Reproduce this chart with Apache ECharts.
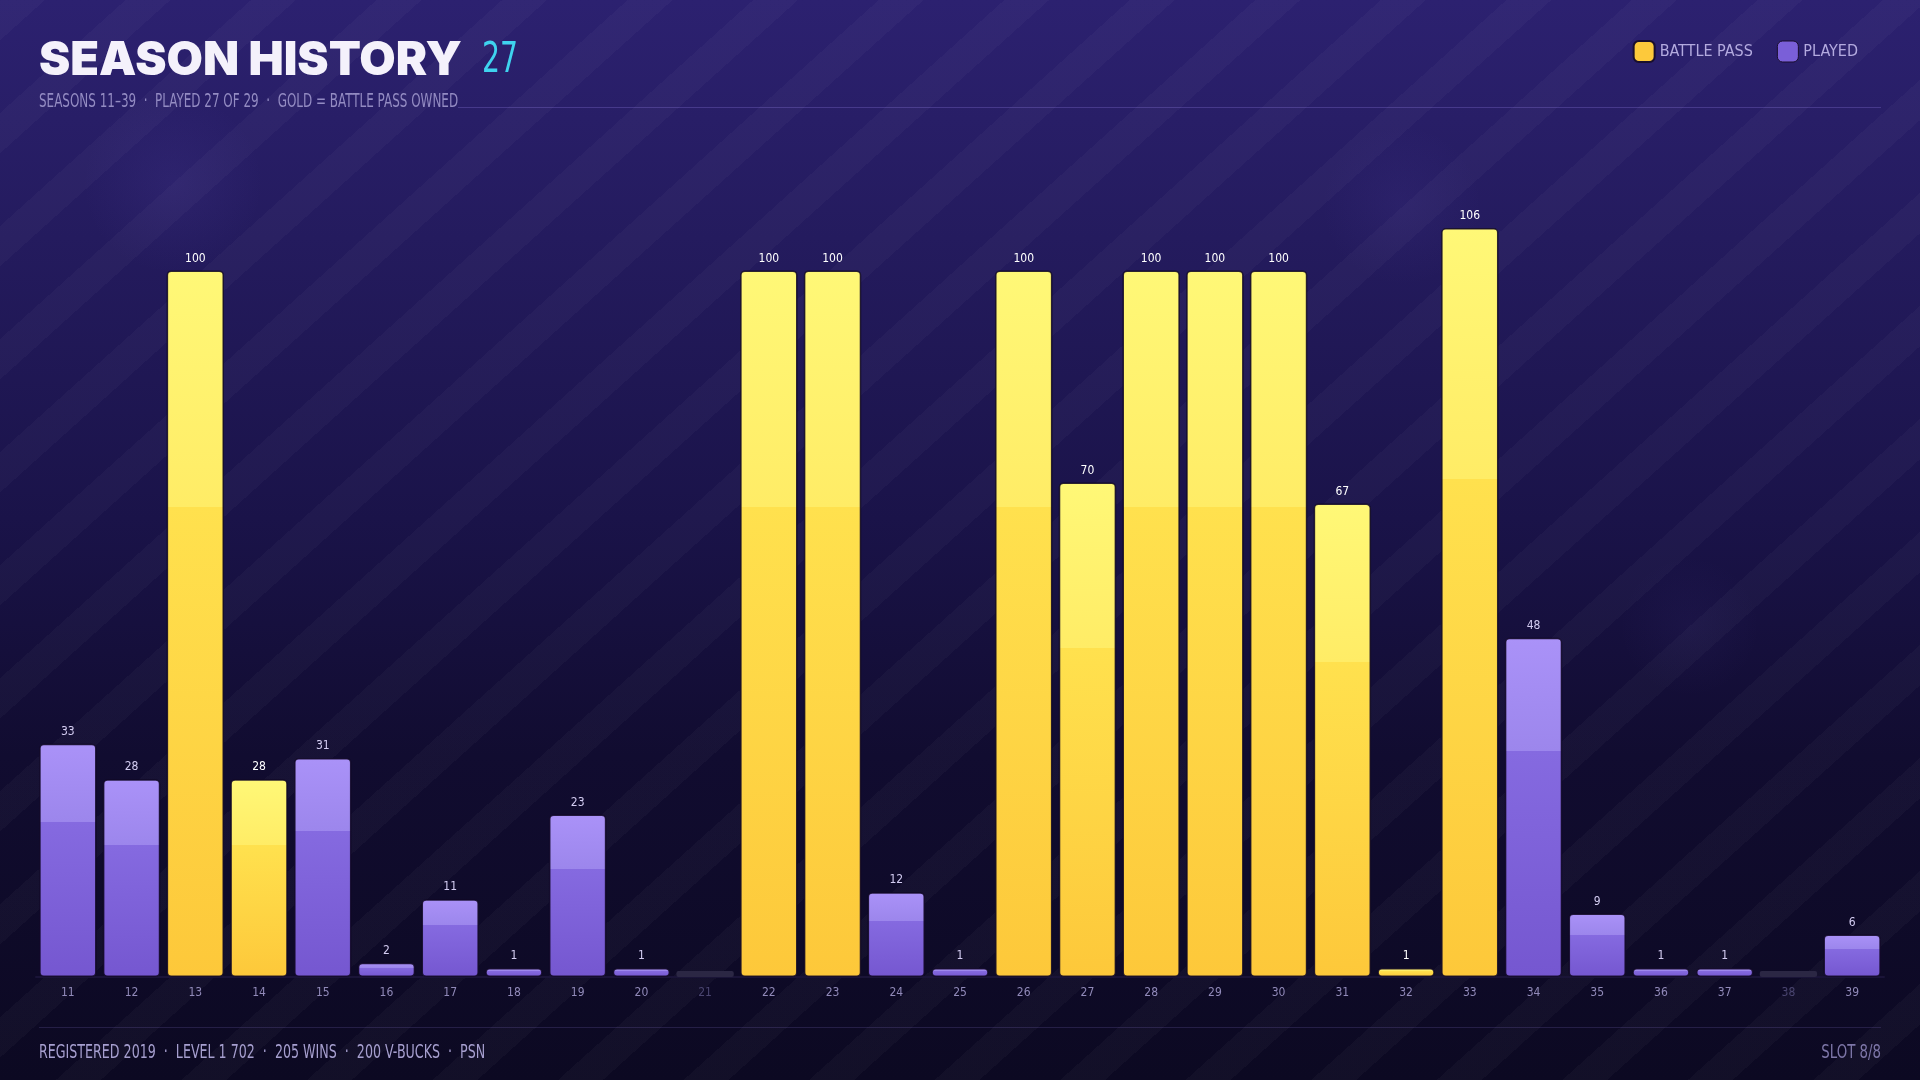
<!DOCTYPE html>
<html>
<head>
<meta charset="utf-8">
<script src="https://cdn.jsdelivr.net/npm/echarts@6/dist/echarts.min.js"></script>
<style>
  html, body { margin:0; padding:0; width:1920px; height:1080px; overflow:hidden; }
  body {
    background:
      radial-gradient(circle at 9% 17%, rgba(120,100,220,0.09) 0, rgba(120,100,220,0) 90px),
      radial-gradient(circle at 73% 19%, rgba(120,100,220,0.07) 0, rgba(120,100,220,0) 80px),
      radial-gradient(circle at 88% 58%, rgba(120,100,220,0.05) 0, rgba(120,100,220,0) 70px),
      repeating-linear-gradient(138deg, rgba(255,255,255,0.028) 0px, rgba(255,255,255,0.028) 30px, rgba(255,255,255,0) 30px, rgba(255,255,255,0) 84px),
      linear-gradient(180deg, #2c2170 0%, #241b5e 22%, #1a1349 48%, #110c30 70%, #0c0922 100%);
  }
  #chart { width:1920px; height:1080px; }
</style>
</head>
<body>
<div id="chart"></div>
<script>
// ---- data ----
const seasons = ['11','12','13','14','15','16','17','18','19','20','21','22','23','24','25','26','27','28','29','30','31','32','33','34','35','36','37','38','39'];
const levels  = [33, 28, 100, 28, 31, 2, 11, 1, 23, 1, 0, 100, 100, 12, 1, 100, 70, 100, 100, 100, 67, 1, 106, 48, 9, 1, 1, 0, 6];
const battlePass = [0,0,1,1,0,0,0,0,0,0,0,1,1,0,0,1,1,1,1,1,1,1,1,0,0,0,0,0,0];
const playedFlag = [1,1,1,1,1,1,1,1,1,1,0,1,1,1,1,1,1,1,1,1,1,1,1,1,1,1,1,0,1];
const titleText = 'SEASON HISTORY';
const titleCount = '27';
const subtitleText = 'SEASONS 11–39  ·  PLAYED 27 OF 29  ·  GOLD = BATTLE PASS OWNED';
const footerText = 'REGISTERED 2019  ·  LEVEL 1 702  ·  205 WINS  ·  200 V-BUCKS  ·  PSN';
const footerRight = 'SLOT 8/8';

const narrow = "'Liberation Sans Narrow', 'DejaVu Sans Condensed', 'Roboto', sans-serif";

const goldGrad = new echarts.graphic.LinearGradient(0,0,0,1,[
  {offset:0, color:'#fff877'},
  {offset:0.335, color:'#ffec66'},
  {offset:0.335, color:'#ffe14e'},
  {offset:1, color:'#fdc83a'}
]);
const purpleGrad = new echarts.graphic.LinearGradient(0,0,0,1,[
  {offset:0, color:'#aa92f8'},
  {offset:0.335, color:'#9c86ec'},
  {offset:0.335, color:'#856ae0'},
  {offset:1, color:'#7557d0'}
]);

const bpData = levels.map((v,i) => (battlePass[i] && playedFlag[i]) ? v : null);
const plData = levels.map((v,i) => (!battlePass[i] && playedFlag[i]) ? v : null);
const noData = levels.map((v,i) => playedFlag[i] ? null : v);

const labelCfg = (color) => ({
  show:true, position:'top', distance:6,
  color: color, fontSize:12, fontFamily: narrow,
  formatter: p => (p.value === null || p.value === undefined) ? '' : String(p.value)
});

const chart = echarts.init(document.getElementById('chart'), null, {renderer:'canvas'});
chart.setOption({
  backgroundColor:'transparent',
  animation:false,
  grid:{ left:36, right:36, top:228, bottom:103 },
  legend:{
    right:57, top:35, itemWidth:21, itemHeight:21, itemGap:24, icon:'roundRect',
    textStyle:{ color:'#b3aadf', fontSize:16, fontFamily: narrow },
    data:[
      {name:'BATTLE PASS', itemStyle:{color:'#fdc93b', borderColor:'#1a0f2e', borderWidth:2}},
      {name:'PLAYED', itemStyle:{color:'#7a5fd8', borderColor:'#1a0f2e', borderWidth:1}}
    ]
  },
  xAxis:{
    type:'category', data:seasons,
    axisLine:{ show:true, lineStyle:{ color:'#1a1438', width:2 } },
    axisTick:{ show:false },
    axisLabel:{
      margin:10, fontSize:12, fontFamily: narrow,
      color: (val) => playedFlag[seasons.indexOf(val)] ? '#918ab9' : '#4a4570'
    }
  },
  yAxis:{ type:'value', min:0, max:106, show:false, splitLine:{show:false} },
  series:[
    {
      name:'BATTLE PASS', type:'bar', data:bpData, barCategoryGap:'10%', barGap:'-100%',
      barMinHeight:9,
      itemStyle:{ color:goldGrad, borderRadius:4, borderColor:'rgba(16,8,36,0.85)', borderWidth:1.5 },
      label: labelCfg('#ffffff')
    },
    {
      name:'PLAYED', type:'bar', data:plData, barCategoryGap:'10%', barGap:'-100%',
      barMinHeight:9,
      itemStyle:{ color:purpleGrad, borderRadius:4, borderColor:'rgba(16,8,36,0.85)', borderWidth:1.5 },
      label: labelCfg('#d4cdf2')
    },
    {
      name:'NOT PLAYED', type:'bar', data:noData, barCategoryGap:'10%', barGap:'-100%',
      barMinHeight:6,
      itemStyle:{ color:'#2b2744', borderRadius:2 },
      label:{ show:false }
    }
  ],
  graphic:[
    { type:'text', x:39, y:37, style:{ text:titleText, fill:'#f4f1fb', font:"900 47px Inter, 'Noto Sans', sans-serif", align:'left', verticalAlign:'top' } },
    { type:'text', x:482, y:40, scaleX:0.75, style:{ text:titleCount, fill:'#3fd3ef', font:"400 42px " + narrow, align:'left', verticalAlign:'top' } },
    { type:'text', x:39, y:93, scaleX:0.70, style:{ text:subtitleText, fill:'#938bc2', font:"400 19px " + narrow, align:'left', verticalAlign:'top' } },
    { type:'rect', shape:{ x:458, y:107, width:1423, height:1 }, style:{ fill:'rgba(150,130,230,0.28)' } },
    { type:'rect', shape:{ x:39, y:1027, width:1842, height:1 }, style:{ fill:'rgba(150,130,230,0.18)' } },
    { type:'text', x:39, y:1044, scaleX:0.74, style:{ text:footerText, fill:'#a69fcf', font:"400 19px " + narrow, align:'left', verticalAlign:'top' } },
    { type:'text', x:1881, y:1044, scaleX:0.78, style:{ text:footerRight, fill:'#7d76a8', font:"400 19px " + narrow, align:'right', verticalAlign:'top' } }
  ]
});
</script>
</body>
</html>
